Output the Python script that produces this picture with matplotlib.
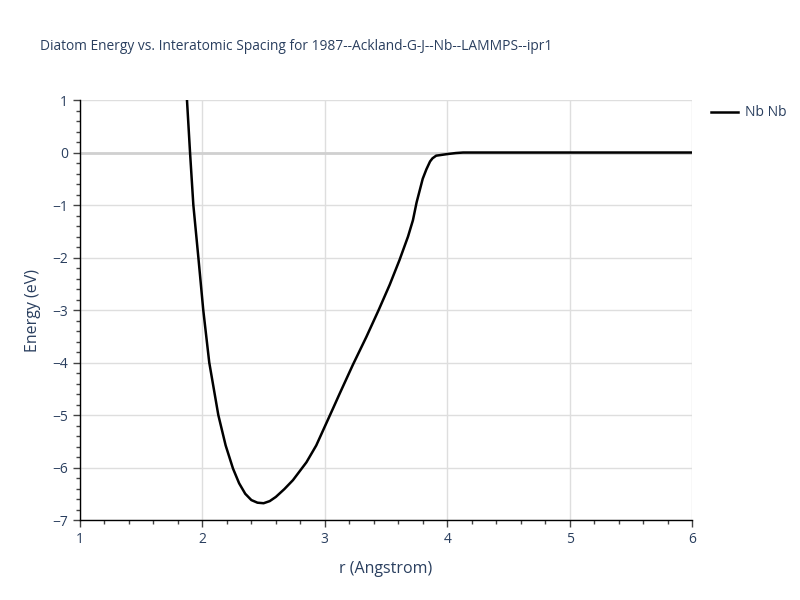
import numpy as np
import matplotlib.pyplot as plt
from matplotlib.ticker import MultipleLocator

# values
r = [1.874, 1.899, 1.926, 1.967, 2.007, 2.056, 2.13, 2.19, 2.25, 2.30, 2.35, 2.40,
     2.45, 2.50, 2.55, 2.60, 2.67, 2.74, 2.85, 2.93, 3.0, 3.07, 3.12, 3.23,
     3.34, 3.44, 3.53, 3.61, 3.68, 3.72, 3.75, 3.80, 3.83, 3.86, 3.88, 3.91,
     4.0, 4.07, 4.13, 4.3, 5.0, 6.0]
energy = [1.0, 0.0, -1.0, -2.0, -3.0, -4.0, -5.0, -5.58, -6.02, -6.30, -6.50, -6.62,
          -6.67, -6.68, -6.64, -6.56, -6.41, -6.24, -5.90, -5.58, -5.22, -4.86, -4.60, -4.04,
          -3.51, -3.0, -2.52, -2.05, -1.6, -1.29, -0.95, -0.5, -0.32, -0.17, -0.11, -0.06,
          -0.03, -0.01, 0.0, 0.0, 0.0, 0.0]
series_name = 'Nb Nb'
title = 'Diatom Energy vs. Interatomic Spacing for 1987--Ackland-G-J--Nb--LAMMPS--ipr1'

plt.rcParams['font.family'] = ['Open Sans', 'DejaVu Sans']
txt = '#2a3f5f'
grid = '#dedede'

fig = plt.figure(figsize=(8, 6), dpi=100)
ax = fig.add_axes([0.1, 0.1333, 0.765, 0.7])

ax.plot(r, energy, color='black', lw=1.8, label=series_name, zorder=3)
ax.axhline(0, color='#d0d0d0', lw=2, zorder=1)

ax.set_xlim(1, 6)
ax.set_ylim(-7, 1)
ax.xaxis.set_major_locator(MultipleLocator(1))
ax.xaxis.set_minor_locator(MultipleLocator(0.2))
ax.yaxis.set_major_locator(MultipleLocator(1))
ax.yaxis.set_minor_locator(MultipleLocator(0.2))
ax.grid(True, which='major', color=grid, lw=1, zorder=0)
ax.set_axisbelow(True)

for s in ['top', 'right']:
    ax.spines[s].set_visible(False)
for s in ['left', 'bottom']:
    ax.spines[s].set_color('black')
    ax.spines[s].set_linewidth(1)

ax.tick_params(which='major', length=5, width=1, color='#444444', labelcolor=txt, labelsize=10)
ax.tick_params(which='minor', length=3, width=1, color='#444444')
ax.set_yticks(range(-7, 2))
ax.set_yticklabels([str(v).replace('-', '\u2212') for v in range(-7, 2)])

ax.set_xlabel('r (Angstrom)', color=txt, fontsize=11.5, labelpad=10)
ax.set_ylabel('Energy (eV)', color=txt, fontsize=11.5, labelpad=8)

fig.text(0.05, 0.923, title, color=txt, fontsize=9.9, va='center')

ax.legend(loc='upper left', bbox_to_anchor=(1.01, 1.017), frameon=False,
          labelcolor=txt, fontsize=10, handlelength=2.0, handletextpad=0.45)

fig.savefig('out.png', dpi=100)
